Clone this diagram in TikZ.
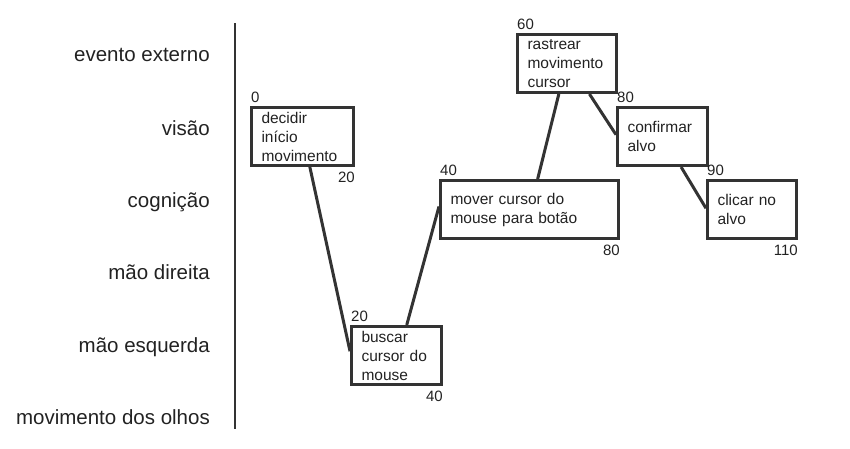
\documentclass[tikz,border=0pt]{standalone}
\usepackage{fontspec}
\setmainfont{Liberation Sans}
\usetikzlibrary{calc}
\definecolor{linegray}{HTML}{333333}
\definecolor{textgray}{HTML}{222222}
\def\lanefont{\fontsize{20.5}{24}\selectfont}
\def\boxfont{\fontsize{15.5}{19}\selectfont}
\def\numfont{\fontsize{15}{18}\selectfont}
\tikzset{
	lane/.style={anchor=base east, inner sep=0pt, font=\lanefont, text=textgray},
	actbox/.style={draw=linegray, line width=3pt, rectangle, anchor=north west, align=left,
		inner xsep=10pt, inner ysep=0pt, minimum height=58pt, text width=#1, font=\boxfont, text=textgray},
	numabove/.style={anchor=south west, inner xsep=1pt, inner ysep=3pt, font=\numfont, text=textgray},
	numbelow/.style={anchor=north east, inner xsep=0pt, inner ysep=5pt, font=\numfont, text=textgray},
	link/.style={draw=linegray, line width=3pt}
}

\begin{document}
\begin{tikzpicture}[x=1pt, y=-1pt]
		%%%%% START %%%%%
		\useasboundingbox (0, 0) rectangle (850, 448);
		
		\node[lane] (ext) at (210, 61) {evento externo};
		\node[lane] (vis) at (210, 135) {visão};
		\node[lane] (cog) at (210, 207) {cognição};
		\node[lane] (mdir) at (210, 279) {mão direita};
		\node[lane] (mesq) at (210, 352) {mão esquerda};
		\node[lane] (olhos) at (210, 424) {movimento dos olhos};
		
		\coordinate (axtop) at (235, 23);
		\coordinate (axbot) at (235, 429);
		\draw[line width=2pt, color=linegray] (axtop) -- (axbot);
		
		\node[actbox=82pt] (decidir) at (250, 106) {decidir\\início\\movimento};
		\node[actbox=70pt] (buscar) at (350, 325) {buscar\\cursor do\\mouse};
		\node[actbox=158pt] (mover) at (439, 179) {mover cursor do\\mouse para botão};
		\node[actbox=79pt] (rastrear) at (516, 33) {rastrear\\movimento\\cursor};
		\node[actbox=70pt] (confirmar) at (616, 106) {confirmar\\alvo};
		\node[actbox=69pt] (clicar) at (706, 179) {clicar no\\alvo};
		
		\node[numabove] (t0) at (decidir.north west) {0};
		\node[numbelow] (t20a) at (decidir.south east) {20};
		\node[numabove] (t20b) at (buscar.north west) {20};
		\node[numbelow] (t40a) at (buscar.south east) {40};
		\node[numabove] (t40b) at (mover.north west) {40};
		\node[numbelow] (t80a) at (mover.south east) {80};
		\node[numabove] (t60) at (rastrear.north west) {60};
		\node[numabove] (t80b) at (confirmar.north west) {80};
		\node[numabove] (t90) at (clicar.north west) {90};
		\node[numbelow] (t110) at (clicar.south east) {110};
		
		\draw[link] ($(decidir.south west)!0.57!(decidir.south east)$) -- ($(buscar.north west)!0.43!(buscar.south west)$);
		\draw[link] ($(buscar.north west)!0.61!(buscar.north east)$) -- ($(mover.north west)!0.45!(mover.south west)$);
		\draw[link] ($(mover.north west)!0.545!(mover.north east)$) -- ($(rastrear.south west)!0.42!(rastrear.south east)$);
		\draw[link] ($(rastrear.south west)!0.72!(rastrear.south east)$) -- ($(confirmar.north west)!0.47!(confirmar.south west)$);
		\draw[link] ($(confirmar.south west)!0.70!(confirmar.south east)$) -- ($(clicar.north west)!0.48!(clicar.south west)$);
		
		%%%%% END %%%%%
	\end{tikzpicture}
\end{document}
